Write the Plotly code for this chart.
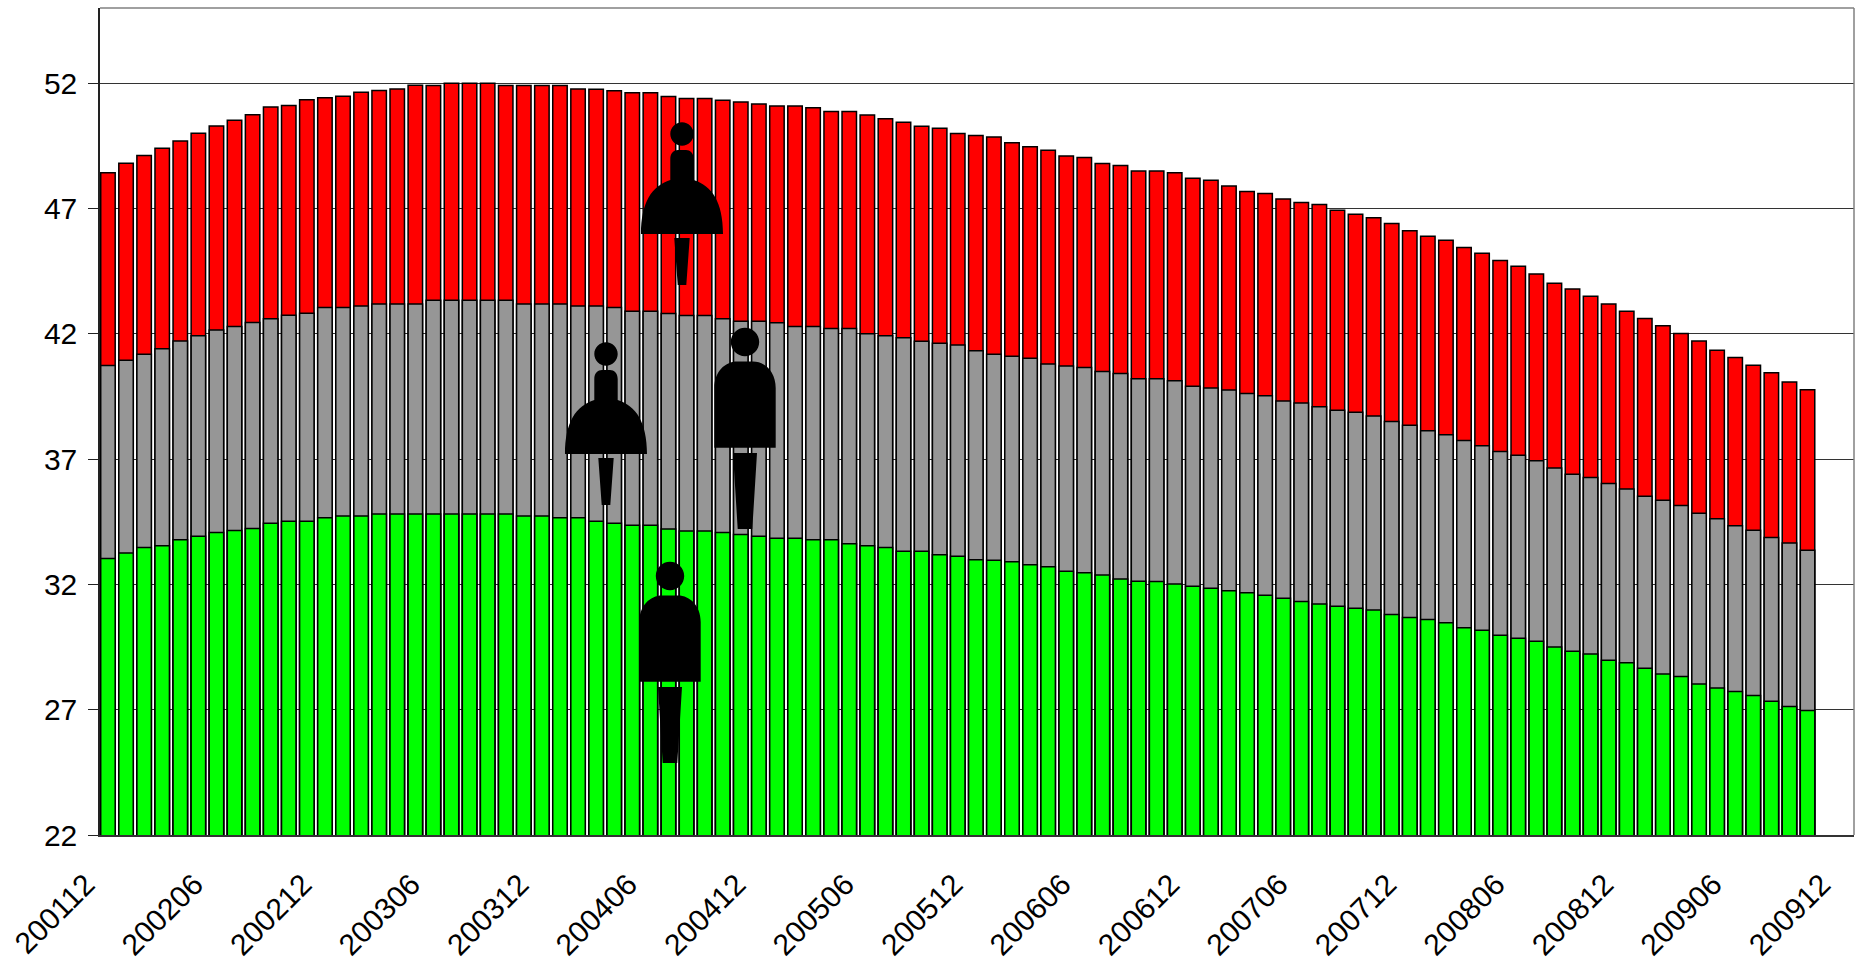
import plotly.graph_objects as go

months = [f"{y}{m:02d}" for y in range(2002, 2010) for m in range(1, 13)]
months = ["200112"] + months
tick_labels = ["200112", "200206", "200212", "200306", "200312", "200406", "200412", "200506",
               "200512", "200606", "200612", "200706", "200712", "200806", "200812", "200906", "200912"]
y_ticks = [22, 27, 32, 37, 42, 47, 52]

red_top = [48.43,48.81,49.11,49.40,49.69,50.00,50.29,50.52,50.74,51.05,
           51.11,51.34,51.42,51.48,51.64,51.71,51.77,51.92,51.91,52.00,
           52.00,52.00,51.91,51.91,51.91,51.91,51.77,51.76,51.70,51.62,
           51.62,51.47,51.39,51.39,51.32,51.25,51.17,51.09,51.09,51.02,
           50.87,50.87,50.73,50.58,50.44,50.28,50.20,49.99,49.91,49.85,
           49.62,49.46,49.32,49.09,49.03,48.80,48.72,48.50,48.50,48.43,
           48.21,48.13,47.90,47.68,47.60,47.38,47.24,47.16,46.93,46.77,
           46.63,46.40,46.11,45.89,45.73,45.44,45.21,44.92,44.69,44.39,
           44.02,43.79,43.50,43.19,42.90,42.61,42.32,42.01,41.71,41.34,
           41.05,40.74,40.45,40.08,39.77]
gray_top = [40.73,40.94,41.18,41.40,41.71,41.92,42.15,42.29,42.45,42.60,
            42.74,42.82,43.05,43.05,43.11,43.19,43.19,43.19,43.34,43.34,
            43.34,43.34,43.34,43.19,43.19,43.19,43.11,43.11,43.05,42.90,
            42.90,42.81,42.73,42.73,42.60,42.50,42.50,42.44,42.29,42.29,
            42.21,42.21,42.00,41.92,41.84,41.70,41.62,41.55,41.32,41.18,
            41.10,41.02,40.79,40.71,40.65,40.50,40.42,40.21,40.21,40.13,
            39.91,39.84,39.76,39.62,39.53,39.32,39.24,39.09,38.95,38.87,
            38.72,38.50,38.35,38.13,37.97,37.74,37.53,37.30,37.15,36.93,
            36.64,36.40,36.27,36.03,35.81,35.52,35.36,35.15,34.84,34.62,
            34.34,34.16,33.87,33.65,33.36]
green_top = [33.03,33.25,33.47,33.54,33.78,33.92,34.07,34.15,34.23,34.44,
             34.52,34.52,34.66,34.73,34.73,34.81,34.81,34.81,34.81,34.81,
             34.81,34.81,34.81,34.73,34.73,34.66,34.66,34.52,34.44,34.36,
             34.36,34.21,34.13,34.13,34.07,33.99,33.92,33.84,33.84,33.78,
             33.78,33.62,33.54,33.47,33.32,33.32,33.18,33.12,32.98,32.96,
             32.90,32.78,32.70,32.52,32.46,32.37,32.22,32.13,32.12,32.02,
             31.93,31.85,31.75,31.67,31.57,31.45,31.32,31.22,31.13,31.05,
             30.98,30.80,30.68,30.60,30.47,30.27,30.17,29.97,29.85,29.73,
             29.50,29.33,29.22,28.97,28.87,28.65,28.42,28.32,28.03,27.87,
             27.73,27.57,27.34,27.13,26.97]

L, R, T, B = 100, 1854, 8, 835
W, H = 1856, 960


def circle(cx, cy, r):
    k = 0.5523 * r
    # pixel path: y grows upward in pixel-sized shapes
    return (f"M{cx-r},{cy} C{cx-r},{cy+k} {cx-k},{cy+r} {cx},{cy+r} "
            f"C{cx+k},{cy+r} {cx+r},{cy+k} {cx+r},{cy} "
            f"C{cx+r},{cy-k} {cx+k},{cy-r} {cx},{cy-r} "
            f"C{cx-k},{cy-r} {cx-r},{cy-k} {cx-r},{cy} Z ")


def woman_path():
    return (circle(0, 0, 11.7) +
            "M-11.7,-25 C-11.7,-19 -8,-16 -4,-16 L4,-16 C8,-16 11.7,-19 11.7,-25 "
            "L11.7,-46 C30,-52 41,-68 41,-100 L-41,-100 C-41,-68 -30,-52 -11.7,-46 Z "
            "M-7.7,-104 L7.7,-104 L4.3,-151 L-4.3,-151 Z")


def man_path():
    return (circle(0, 0, 14.2) +
            "M-30.7,-46 C-30.7,-30 -20,-19.5 -8,-19.5 L8,-19.5 C20,-19.5 30.7,-30 30.7,-46 "
            "L30.7,-105.7 L-30.7,-105.7 Z "
            "M-12,-111 L12,-111 L7.3,-187 L-7.3,-187 Z")


icons = [(682, 134, woman_path()), (606, 354, woman_path()),
         (745, 342, man_path()), (670, 576, man_path())]

shapes = [
    dict(type="line", xref="paper", yref="paper", x0=0, x1=1, y0=1, y1=1,
         line=dict(color="#808080", width=1.5)),
    dict(type="line", xref="paper", yref="paper", x0=1, x1=1, y0=0, y1=1,
         line=dict(color="#808080", width=1.5)),
]
for px, py, path in icons:
    shapes.append(dict(type="path", xref="paper", yref="paper",
                       xsizemode="pixel", ysizemode="pixel",
                       xanchor=(px - L) / (R - L), yanchor=(B - py) / (B - T),
                       path=path, fillcolor="#000000", line=dict(width=0), layer="above"))

fig = go.Figure()
for vals, col in [(red_top, "#FF0000"), (gray_top, "#969696"), (green_top, "#00FF00")]:
    fig.add_trace(go.Bar(x=months[:len(vals)], y=vals, width=0.80, marker=dict(color=col, line=dict(color="#000000", width=1.5))))

fig.update_layout(
    barmode="overlay", width=W, height=H, autosize=False, showlegend=False,
    paper_bgcolor="white", plot_bgcolor="white",
    margin=dict(l=L, r=W - R, t=T, b=H - B),
    font=dict(family="Liberation Sans, Arial, sans-serif", size=30, color="#000000"),
    shapes=shapes,
)
fig.update_xaxes(type="category", categoryorder="array", categoryarray=months, automargin=False,
                 range=[-0.44, 96.57], tickmode="array", tickvals=tick_labels, ticktext=tick_labels,
                 tickangle=-45, ticks="", showgrid=False, showline=True, linecolor="#333333", linewidth=1.5,
                 zeroline=False, ticklabelshift=-22, ticklabelstandoff=18)
fig.update_yaxes(range=[22, 55], tickmode="array", tickvals=y_ticks, ticks="outside", ticklen=10, automargin=False,
                 tickcolor="#222222", tickwidth=1, showgrid=True, gridcolor="#333333", gridwidth=1,
                 showline=True, linecolor="#222222", linewidth=1.5, zeroline=False, ticklabelstandoff=5)

fig.write_html("out.html", config=dict(displayModeBar=False),
               post_script="document.body.style.margin='0';document.body.style.overflow='hidden';")
